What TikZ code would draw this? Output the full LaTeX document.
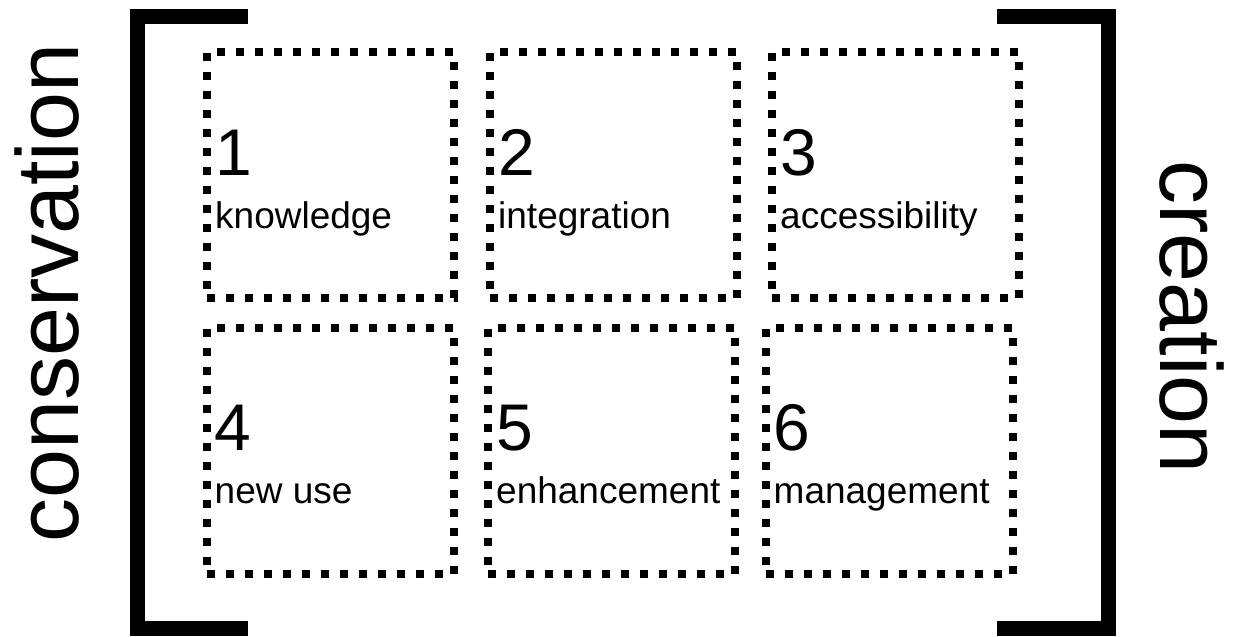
\documentclass[tikz,border=0pt]{standalone}
\usepackage{fontspec}
\setmainfont{Liberation Sans}
\usetikzlibrary{calc}
\tikzset{
  dotbox/.style={draw=black, line width=8pt, dash pattern=on 8pt off 11pt, minimum width=247pt, minimum height=246pt, inner sep=0pt, outer sep=0pt},
  bracket/.style={draw=black, line width=15pt, miter limit=10, line join=miter},
  numtxt/.style={anchor=base west, inner sep=0pt, font=\fontsize{66}{66}\selectfont},
  labtxt/.style={anchor=base west, inner sep=0pt, font=\fontsize{37}{37}\selectfont},
  sidetxt/.style={anchor=base, inner sep=0pt, font=\fontsize{88}{88}\selectfont}
}
\begin{document}
\begin{tikzpicture}[x=1pt,y=-1pt]
\useasboundingbox[fill=white] (0,0) rectangle (1237,637);
% brackets
\draw[bracket] (248,16) -- (137.5,16) -- (137.5,628.5) -- (248,628.5);
\draw[bracket] (997,16) -- (1108.5,16) -- (1108.5,628.5) -- (997,628.5);
% side texts
\node[sidetxt, rotate=90] (cons) at (78,293) {conservation};
\node[sidetxt, rotate=-90] (crea) at (1160,317) {creation};
% boxes
\node[dotbox] (b1) at (330.5,175) {};
\node[dotbox] (b2) at (613.5,175) {};
\node[dotbox] (b3) at (895.5,175) {};
\node[dotbox] (b4) at (330,450.5) {};
\node[dotbox] (b5) at (611.5,450.5) {};
\node[dotbox] (b6) at (889,450.5) {};
% texts
\foreach \b/\n/\l in {b1/1/knowledge, b2/2/integration, b3/3/accessibility, b4/4/new use, b5/5/enhancement, b6/6/management}{
  \node[numtxt] (n\n) at ($(\b.north west)+(8,123)$) {\n};
  \node[labtxt] (l\n) at ($(\b.north west)+(8,176)$) {\l};
}
\end{tikzpicture}
\end{document}
